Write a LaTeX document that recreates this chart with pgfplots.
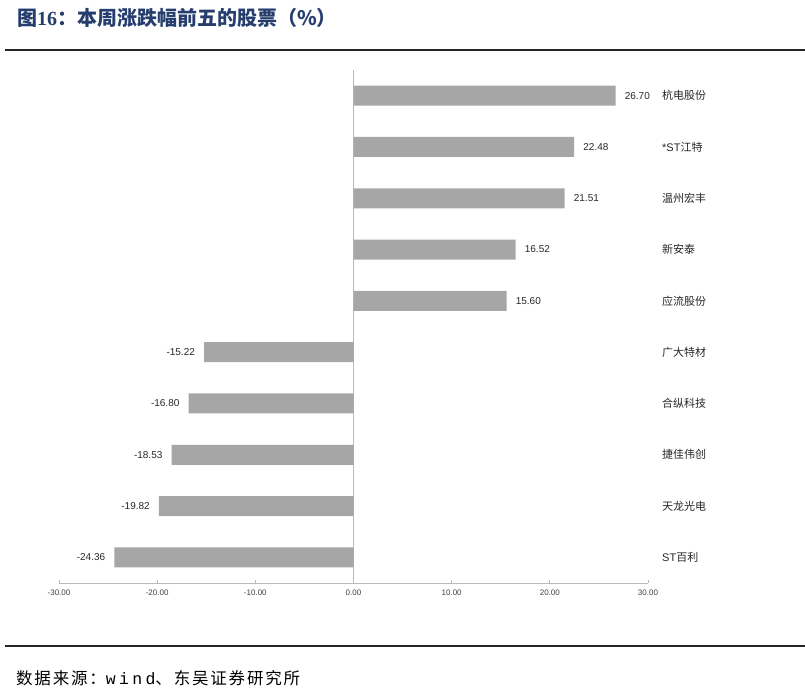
\documentclass[border=0pt]{standalone}
\usepackage{pgfplots}
\pgfplotsset{compat=1.18}
\usepackage{fontspec}
\setmainfont{Liberation Sans}
\newfontfamily\cjk{Noto Sans CJK SC}
\newfontfamily\lat{Liberation Sans}
\newfontfamily\srccjk[LetterSpace=11]{Noto Sans CJK SC}
\newfontfamily\serifb{Liberation Serif}
\newfontfamily\mono[LetterSpace=20]{Liberation Mono}
\definecolor{titleblue}{RGB}{38,62,110}
\definecolor{barg}{RGB}{166,166,166}
\definecolor{axg}{RGB}{185,185,185}
\begin{document}
\begin{tikzpicture}
\useasboundingbox (0,0) rectangle (805pt,-693pt);
\node[anchor=west,inner sep=0pt,text=titleblue,font=\fontsize{20}{20}\selectfont\cjk\bfseries] at (17pt,-18pt) {图{\serifb\bfseries 16}：本周涨跌幅前五的股票（\%）};
\draw[line width=1.6pt, black!85] (5pt,-50pt) -- (805pt,-50pt);
\draw[line width=1.6pt, black!85] (5pt,-646pt) -- (805pt,-646pt);
\node[anchor=west, inner sep=0pt, font=\fontsize{16.5}{16.5}\selectfont\srccjk] at (16pt,-678pt) {数据来源：{\mono wind}、东吴证券研究所};
\begin{axis}[
  at={(59pt,-583pt)}, anchor=south west,
  width=589pt, height=513pt, scale only axis,
  xmin=-30, xmax=30, ymin=-0.5, ymax=9.5,
  /pgf/number format/assume math mode=true,
  axis x line=bottom,
  axis y line*=right,
  x axis line style={-, draw=axg, line width=0.8pt},
  y axis line style={draw=none},
  xtick={-30,-20,...,30},
  xtick align=inside,
  xtick style={draw=axg, line width=0.8pt},
  major tick length=3pt,
  xticklabel style={font=\fontsize{8}{8}\selectfont, text=black!75, yshift=-3pt, /pgf/number format/.cd, fixed, fixed zerofill, precision=2},
  extra x ticks={0},
  extra x tick labels={},
  extra x tick style={grid=major, major grid style={draw=axg, line width=0.8pt}},
  ytick={0,...,9},
  yticklabels={{\lat ST}百利,天龙光电,捷佳伟创,合纵科技,广大特材,应流股份,新安泰,温州宏丰,{\lat *ST}江特,杭电股份},
  ytick style={draw=none},
  yticklabel style={font=\fontsize{11}{11}\selectfont\cjk, text=black!85, anchor=west, inner xsep=0pt, xshift=14pt},
  clip=false,
]
\addplot[xbar, fill=barg, draw=none, bar width=20pt,
  point meta=x,
  nodes near coords={\pgfmathprintnumber[fixed, fixed zerofill, precision=2]{\pgfplotspointmeta}},
  nodes near coords style={font=\fontsize{10}{10}\selectfont, text=black!85, inner xsep=9pt, inner ysep=0pt},
] coordinates {
(-24.36,0) (-19.82,1) (-18.53,2) (-16.80,3) (-15.22,4)
(15.60,5) (16.52,6) (21.51,7) (22.48,8) (26.70,9)
};
\end{axis}
\end{tikzpicture}
\end{document}
